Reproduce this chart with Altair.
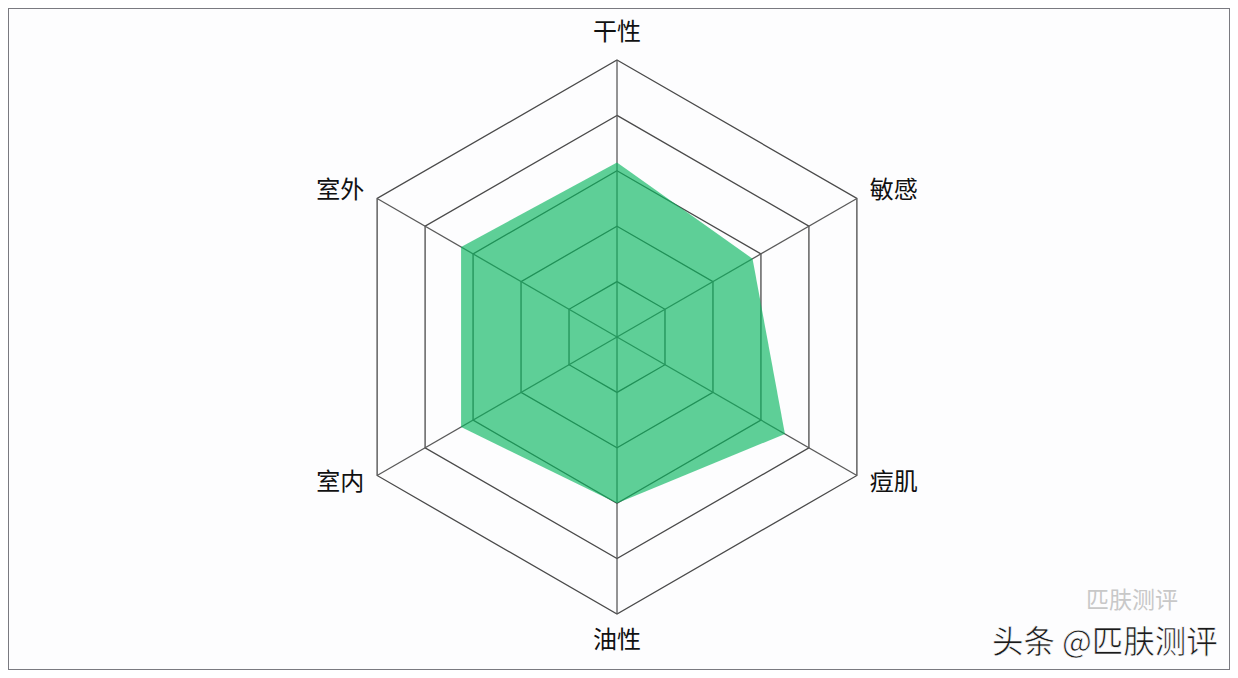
import altair as alt
import pandas as pd

# ---- data ----
axes_names = ["干性", "敏感", "痘肌", "油性", "室内", "室外"]
values = [63, 56.5, 70, 60, 65, 65]
levels = [20, 40, 60, 80, 100]
label_radius = 105.4
watermark = "头条 @匹肤测评"
watermark_faint = "匹肤测评"

n = len(axes_names)
idx = list(range(n))

poly_df = pd.DataFrame({"i": idx, "axis": axes_names, "value": values})
grid_df = pd.DataFrame([{"level": lv, "i": i} for lv in levels for i in idx])
axis_df = pd.DataFrame({"i": idx, "axis": axes_names,
                        "value": [max(levels)] * n,
                        "lr": [label_radius] * n})

TH = f"datum.i * 2 * PI / {n}"

xs = alt.Scale(domain=[-219.86, 221.30], nice=False, zero=False)
ys = alt.Scale(domain=[-120.22, 118.77], nice=False, zero=False)

def X(f):
    return alt.X(f, type="quantitative", scale=xs, axis=None)

def Y(f):
    return alt.Y(f, type="quantitative", scale=ys, axis=None)

grid = alt.Chart(grid_df).transform_calculate(
    x=f"datum.level * sin({TH})", y=f"datum.level * cos({TH})"
).mark_line(interpolate="linear-closed", stroke="#4a4a4a", strokeWidth=1.3).encode(
    x=X("x"), y=Y("y"), detail="level:N", order="i:Q"
)

spokes = alt.Chart(axis_df).transform_calculate(
    x=f"datum.value * sin({TH})", y=f"datum.value * cos({TH})", x0="0", y0="0"
).mark_rule(stroke="#5a5a5a", strokeWidth=1.3).encode(
    x=X("x0"), y=Y("y0"), x2="x:Q", y2="y:Q"
)

area = alt.Chart(poly_df).transform_calculate(
    x=f"datum.value * sin({TH})", y=f"datum.value * cos({TH})"
).mark_line(interpolate="linear-closed", fill="#09b75f", fillOpacity=0.65,
            strokeWidth=0).encode(
    x=X("x"), y=Y("y"), order="i:Q"
)

lab_base = alt.Chart(axis_df).transform_calculate(
    x=f"datum.lr * sin({TH})", y=f"datum.lr * cos({TH})",
    s=f"sin({TH})", c=f"cos({TH})"
)

def labels(cond, align, baseline):
    return lab_base.transform_filter(cond).mark_text(
        align=align, baseline=baseline, font="Noto Sans CJK SC",
        fontSize=24, color="#111111"
    ).encode(x=X("x"), y=Y("y"), text="axis:N")

lab_top = labels("abs(datum.s) < 0.01 && datum.c > 0", "center", "bottom")
lab_bot = labels("abs(datum.s) < 0.01 && datum.c < 0", "center", "top")
lab_right = labels("datum.s > 0.01", "left", "middle")
lab_left = labels("datum.s < -0.01", "right", "middle")

wm_faint = alt.Chart(pd.DataFrame({"t": [watermark_faint]})).mark_text(
    align="left", baseline="middle", font="Noto Sans CJK SC", fontSize=23,
    color="#c8c8c8"
).encode(x=alt.value(1078), y=alt.value(593), text="t:N")

wm = alt.Chart(pd.DataFrame({"t": [watermark]})).mark_text(
    align="left", baseline="middle", font="Noto Sans CJK SC", fontSize=31.5,
    color="#1a1a1a", stroke="white", strokeWidth=0.6
).encode(x=alt.value(984), y=alt.value(636), text="t:N")

chart = alt.layer(
    grid, spokes, area, lab_top, lab_bot, lab_right, lab_left, wm_faint, wm
).properties(
    width=1222, height=662,
    autosize=alt.AutoSizeParams(type="none"),
    padding=0, background="#fdfdfe"
).configure_view(stroke="#7a7a80", strokeWidth=2)

chart.save("out.html", embed_options={"renderer": "svg", "actions": False})
